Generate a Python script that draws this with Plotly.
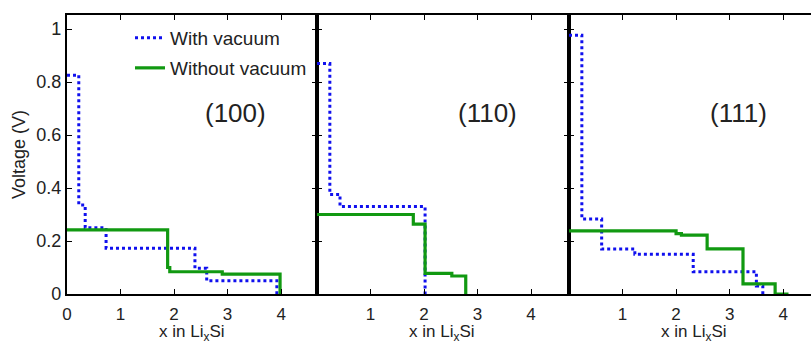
import plotly.graph_objects as go
from plotly.subplots import make_subplots

# ---- data ----
p100_vac_x = [0, 0.22, 0.34, 0.73, 2.39, 2.61, 3.92]
p100_vac_v = [0.826, 0.336, 0.25, 0.173, 0.097, 0.05, 0]
p100_novac_x = [0, 1.88, 1.92, 2.9, 3.98]
p100_novac_v = [0.242, 0.10, 0.084, 0.075, 0]

p110_vac_x = [0, 0.24, 0.43, 2.02]
p110_vac_v = [0.87, 0.376, 0.33, 0]
p110_novac_x = [0, 1.8, 2.02, 2.52, 2.78]
p110_novac_v = [0.30, 0.264, 0.078, 0.068, 0]

p111_vac_x = [0, 0.24, 0.61, 1.23, 2.32, 3.5, 3.62]
p111_vac_v = [0.977, 0.283, 0.17, 0.15, 0.084, 0.03, 0]
p111_novac_x = [0, 2.0, 2.1, 2.58, 3.25, 3.85, 4.1]
p111_novac_v = [0.238, 0.228, 0.222, 0.17, 0.038, 0, 0]

panel_labels = ["(100)", "(110)", "(111)"]
series_names = ["With vacuum", "Without vacuum"]
y_ticks = [0, 0.2, 0.4, 0.6, 0.8, 1]
y_ticktext = ["0", "0.2", "0.4", "0.6", "0.8", "1"]

BLUE = "#1010ee"
GREEN = "#119911"
FONT = "Liberation Sans, Arial, sans-serif"
TXT = "#222222"

W, H = 811, 346
L, R, T, B = 67, 0, 15, 52
pw = W - L - R
ph = H - T - B
d1 = (317 - L) / pw
d2 = (569 - L) / pw

fig = make_subplots(rows=1, cols=3, horizontal_spacing=0)

panels = [
    (p100_vac_x, p100_vac_v, p100_novac_x, p100_novac_v),
    (p110_vac_x, p110_vac_v, p110_novac_x, p110_novac_v),
    (p111_vac_x, p111_vac_v, p111_novac_x, p111_novac_v),
]
for i, (vx, vv, nx, nv) in enumerate(panels):
    fig.add_trace(go.Scatter(x=vx, y=vv, mode="lines", line_shape="hv",
                             name=series_names[0], legend="legend",
                             showlegend=(i == 0),
                             line=dict(color=BLUE, width=3, dash="dot")),
                  row=1, col=i + 1)
    fig.add_trace(go.Scatter(x=nx, y=nv, mode="lines", line_shape="hv",
                             name=series_names[1], legend="legend2",
                             showlegend=(i == 0),
                             line=dict(color=GREEN, width=3.2)),
                  row=1, col=i + 1)

domains = [[0, d1], [d1, d2], [d2, 1]]
xranges = [[0, 4.67], [0, 4.71], [0, 4.52]]
for i in range(3):
    ax = dict(domain=domains[i], range=xranges[i], showgrid=False, zeroline=False,
              showline=True, linecolor="black", linewidth=2.2,
              ticks="inside", ticklen=5, tickcolor="black",
              tickfont=dict(family=FONT, size=17, color=TXT),
              ticklabelstandoff=3,
              mirror="ticks")
    if i == 0:
        ax.update(tickvals=[0, 1, 2, 3, 4], ticktext=["0", "1", "2", "3", "4"])
    else:
        ax.update(tickvals=[1, 2, 3, 4], ticktext=["1", "2", "3", "4"])
    fig.update_xaxes(ax, row=1, col=i + 1)
    ay = dict(range=[0, 1.053], showgrid=False, zeroline=False,
              showline=True, linecolor="black", linewidth=2.2,
              ticks="inside", ticklen=5, tickcolor="black",
              tickvals=y_ticks, ticktext=y_ticktext,
              tickfont=dict(family=FONT, size=18, color=TXT),
              mirror=("ticks" if i < 2 else False),
              showticklabels=(i == 0))
    fig.update_yaxes(ay, row=1, col=i + 1)

fig.update_yaxes(title=dict(text="Voltage (V)", font=dict(family=FONT, size=18, color=TXT),
                            standoff=6), row=1, col=1)

annos = []
lab_x = [3.14, 3.18, 3.16]
title_x = 2.335
for i in range(3):
    xr = "x" if i == 0 else f"x{i+1}"
    yr = "y" if i == 0 else f"y{i+1}"
    annos.append(dict(text=panel_labels[i], x=lab_x[i], y=0.683, xref=xr, yref=yr,
                      showarrow=False, font=dict(family=FONT, size=26, color=TXT),
                      xanchor="center", yanchor="middle"))
    annos.append(dict(text="x in Li<sub>x</sub>Si", x=title_x, y=0, yshift=-(345 - 294),
                      xref=xr, yref="paper",
                      showarrow=False, font=dict(family=FONT, size=17, color=TXT),
                      xanchor="center", yanchor="bottom", borderpad=0))

leg = dict(bgcolor="rgba(0,0,0,0)", borderwidth=0, itemwidth=30,
           font=dict(family=FONT, size=19, color=TXT),
           xanchor="left", yanchor="middle", tracegroupgap=0)
fig.update_layout(
    width=W, height=H,
    margin=dict(l=L, r=R, t=T, b=B),
    paper_bgcolor="white", plot_bgcolor="white",
    showlegend=True,
    legend=dict(leg, x=(130 - L) / pw, y=(294 - 38) / ph),
    legend2=dict(leg, x=(130 - L) / pw, y=(294 - 68) / ph),
    annotations=annos,
)

fig.write_html("out.html")
